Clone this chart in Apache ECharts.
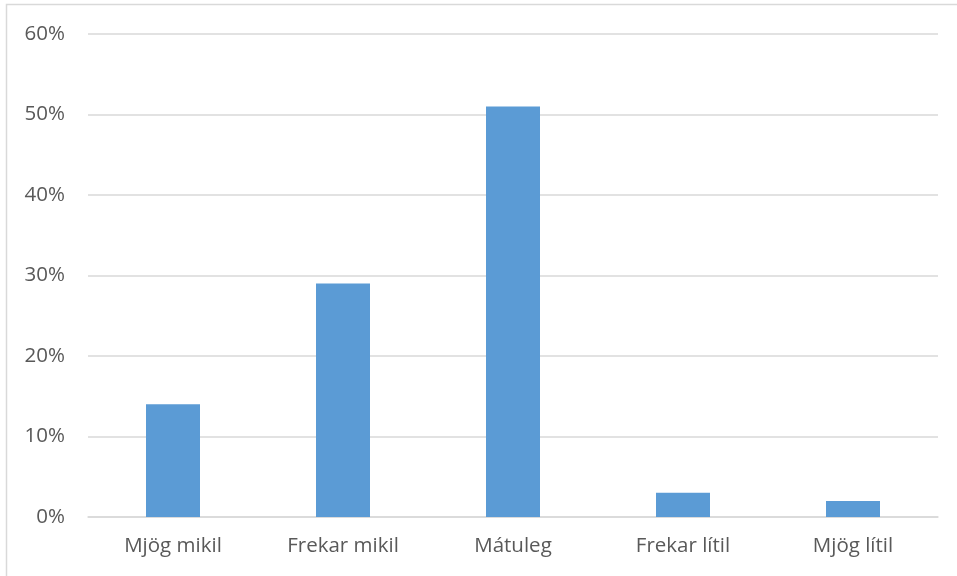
<!DOCTYPE html>
<html>
<head>
<meta charset="utf-8">
<script src="https://cdn.jsdelivr.net/npm/echarts@6/dist/echarts.min.js"></script>
<style>
  html, body { margin: 0; padding: 0; background: #fff; }
  #chart { width: 957px; height: 576px; }
</style>
</head>
<body>
<div id="chart"></div>
<script>
var categories = ['Mjög mikil', 'Frekar mikil', 'Mátuleg', 'Frekar lítil', 'Mjög lítil'];
var values = [14, 29, 51, 3, 2];
var yTicks = [0, 10, 20, 30, 40, 50, 60];

var myChart = echarts.init(document.getElementById('chart'));
var textColor = '#595959';
var font = '"Open Sans", sans-serif';

var option = {
    animation: false,
    backgroundColor: '#fff',
    graphic: [{
        type: 'rect',
        shape: { x: 6.5, y: 4.5, width: 960, height: 580 },
        style: { fill: 'none', stroke: '#d9d9d9', lineWidth: 1.5 },
        silent: true
    }],
    grid: { left: 88, right: 19, top: 34, bottom: 59 },
    xAxis: {
        type: 'category',
        data: categories,
        axisTick: { show: false },
        axisLine: { lineStyle: { color: '#d9d9d9', width: 1.5 } },
        axisLabel: { color: textColor, fontSize: 20.5, fontFamily: font, margin: 19 }
    },
    yAxis: {
        type: 'value',
        min: yTicks[0],
        max: yTicks[yTicks.length - 1],
        interval: 10,
        axisLine: { show: false },
        axisTick: { show: false },
        splitLine: { lineStyle: { color: '#d9d9d9', width: 1.5 } },
        axisLabel: {
            color: textColor, fontSize: 20.5, fontFamily: font, margin: 23,
            formatter: function (v) { return v + '%'; }
        }
    },
    series: [{
        type: 'bar',
        data: values,
        barWidth: 54,
        itemStyle: { color: '#5b9bd5' }
    }]
};

myChart.setOption(option);
</script>
</body>
</html>
